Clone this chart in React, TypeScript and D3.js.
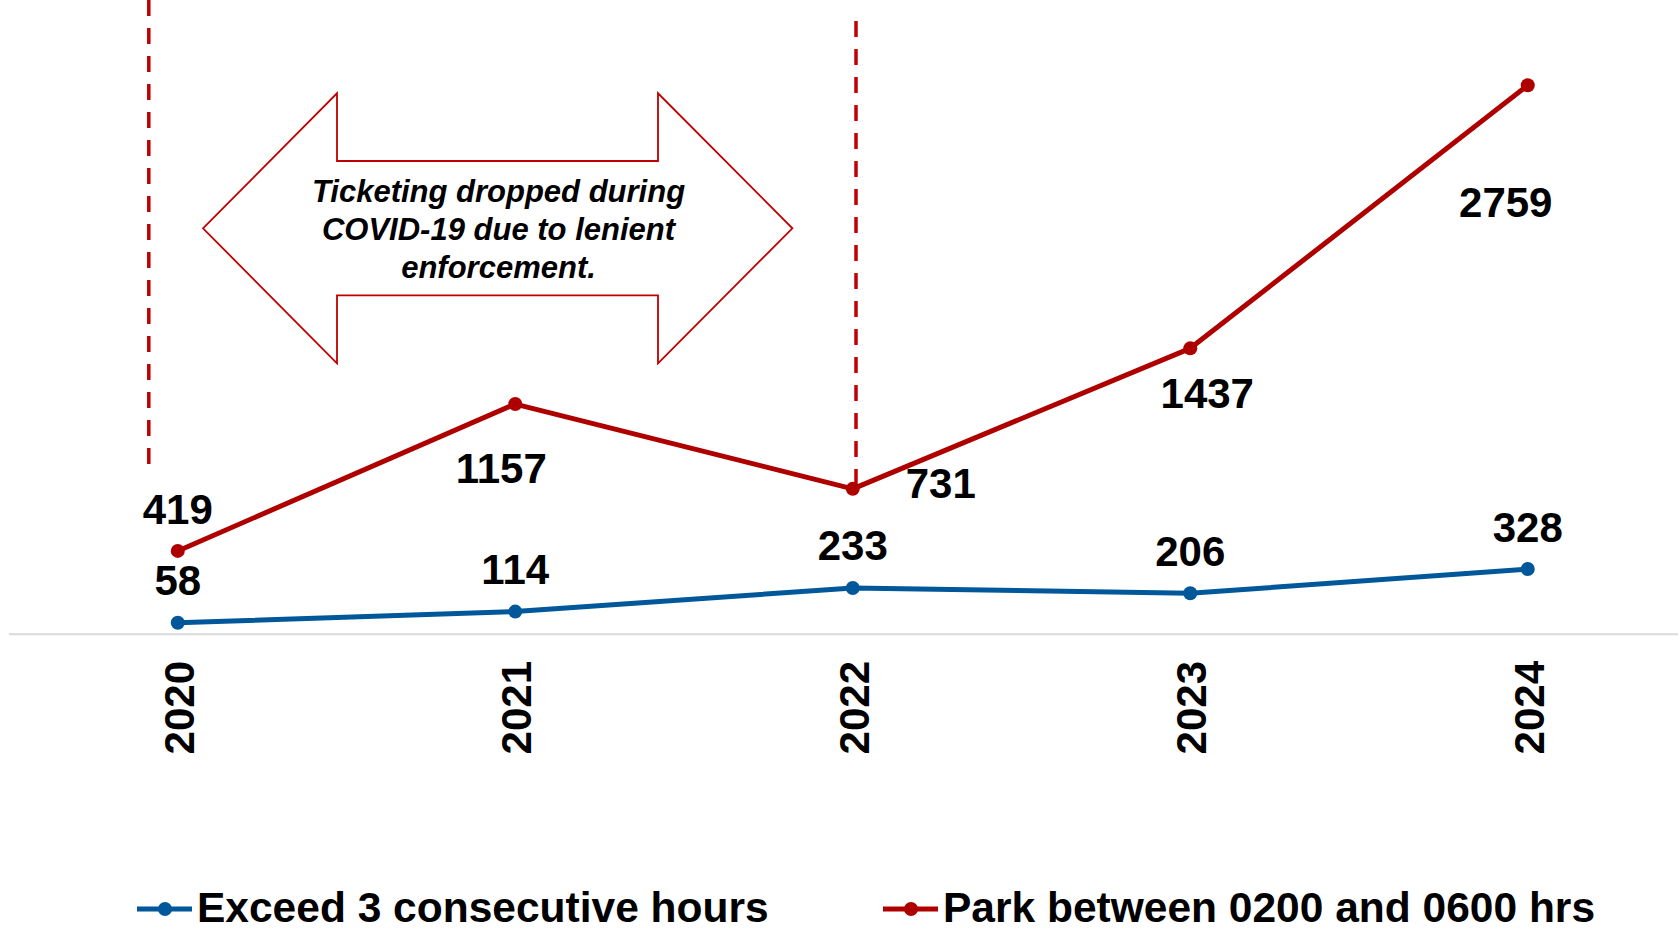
import React, { useEffect, useRef } from 'react';
import * as d3 from 'd3';

// chart data
const years = ['2020', '2021', '2022', '2023', '2024'];
const exceedHours = [58, 114, 233, 206, 328];
const parkOvernight = [419, 1157, 731, 1437, 2759];
const seriesNames = ['Exceed 3 consecutive hours', 'Park between 0200 and 0600 hrs'];
const noteLines = ['Ticketing dropped during', 'COVID-19 due to lenient', 'enforcement.'];

// where each red label sits relative to its point (dx, baseline dy)
const redLabelOffsets = [
  [0, -27],
  [-14, 79],
  [88, 9],
  [17, 60],
  [-22, 132],
];

const BLUE = '#00579A';
const RED = '#AF0000';
const NOTE_RED = '#BE0000';
const FONT = '"Liberation Sans", Arial, sans-serif';

const App = () => {
  const svgRef = useRef<SVGSVGElement>(null);

  useEffect(() => {
    const svg = d3.select(svgRef.current);
    svg.selectAll('*').remove();

    const width = 1678;
    const height = 930;
    svg.attr('width', width).attr('height', height);

    // scales
    const x = d3.scaleBand().domain(years).range([9, 1696.5]);
    const cx = (d: string) => (x(d) as number) + x.bandwidth() / 2;
    const y = d3.scaleLinear().domain([0, 3000]).range([634.3, 37.3]);

    // covid period markers
    svg.append('line')
      .attr('x1', 148.8).attr('x2', 148.8)
      .attr('y1', 0).attr('y2', 470)
      .attr('stroke', NOTE_RED)
      .attr('stroke-width', 3.5)
      .attr('stroke-dasharray', '16,12');

    svg.append('line')
      .attr('x1', 856).attr('x2', 856)
      .attr('y1', 21).attr('y2', y(parkOvernight[2]))
      .attr('stroke', NOTE_RED)
      .attr('stroke-width', 3.5)
      .attr('stroke-dasharray', '16,12');

    // double arrow note
    const arrowPts: [number, number][] = [
      [203, 228.3], [337, 93.3], [337, 161], [658, 161], [658, 93.3], [792.4, 228.3],
      [658, 363.3], [658, 295.3], [337, 295.3], [337, 363.3],
    ];
    svg.append('polygon')
      .attr('points', arrowPts.map((p) => p.join(',')).join(' '))
      .attr('fill', '#fff')
      .attr('stroke', NOTE_RED)
      .attr('stroke-width', 1.8);

    svg.append('g')
      .selectAll('text')
      .data(noteLines)
      .enter()
      .append('text')
      .attr('x', 498.5)
      .attr('y', (d, i) => 201.5 + i * 38)
      .attr('text-anchor', 'middle')
      .attr('font-family', FONT)
      .attr('font-size', 31)
      .attr('font-weight', 'bold')
      .attr('font-style', 'italic')
      .attr('fill', '#000')
      .text((d) => d);

    // x axis line
    svg.append('line')
      .attr('x1', 9).attr('x2', width)
      .attr('y1', y(0)).attr('y2', y(0))
      .attr('stroke', '#D9D9D9')
      .attr('stroke-width', 2);

    // year labels (rotated)
    svg.append('g')
      .selectAll('text')
      .data(years)
      .enter()
      .append('text')
      .attr('transform', (d) => `translate(${cx(d) + 16},661) rotate(-90)`)
      .attr('text-anchor', 'end')
      .attr('font-family', FONT)
      .attr('font-size', 42)
      .attr('font-weight', 'bold')
      .attr('fill', '#000')
      .text((d) => d);

    const line = d3.line<number>()
      .x((d, i) => cx(years[i]))
      .y((d) => y(d));

    const drawSeries = (values: number[], color: string) => {
      svg.append('path')
        .datum(values)
        .attr('d', line)
        .attr('fill', 'none')
        .attr('stroke', color)
        .attr('stroke-width', 5)
        .attr('stroke-linejoin', 'round');

      svg.append('g')
        .selectAll('circle')
        .data(values)
        .enter()
        .append('circle')
        .attr('cx', (d, i) => cx(years[i]))
        .attr('cy', (d) => y(d))
        .attr('r', 7)
        .attr('fill', color);
    };

    drawSeries(parkOvernight, RED);
    drawSeries(exceedHours, BLUE);

    // data labels
    svg.append('g')
      .selectAll('text')
      .data(exceedHours)
      .enter()
      .append('text')
      .attr('x', (d, i) => cx(years[i]))
      .attr('y', (d) => y(d) - 27.5)
      .attr('text-anchor', 'middle')
      .attr('font-family', FONT)
      .attr('font-size', 42)
      .attr('font-weight', 'bold')
      .attr('fill', '#000')
      .text((d) => d);

    svg.append('g')
      .selectAll('text')
      .data(parkOvernight)
      .enter()
      .append('text')
      .attr('x', (d, i) => cx(years[i]) + redLabelOffsets[i][0])
      .attr('y', (d, i) => y(d) + redLabelOffsets[i][1])
      .attr('text-anchor', 'middle')
      .attr('font-family', FONT)
      .attr('font-size', 42)
      .attr('font-weight', 'bold')
      .attr('fill', '#000')
      .text((d) => d);

    // legend
    const legendItems = [
      { name: seriesNames[0], color: BLUE, x: 137 },
      { name: seriesNames[1], color: RED, x: 883 },
    ];
    const legend = svg.append('g');
    legendItems.forEach((item) => {
      legend.append('line')
        .attr('x1', item.x).attr('x2', item.x + 55)
        .attr('y1', 909).attr('y2', 909)
        .attr('stroke', item.color)
        .attr('stroke-width', 5);
      legend.append('circle')
        .attr('cx', item.x + 28).attr('cy', 909)
        .attr('r', 7)
        .attr('fill', item.color);
      legend.append('text')
        .attr('x', item.x + 60)
        .attr('y', 922)
        .attr('font-family', FONT)
        .attr('font-size', 42.5)
        .attr('font-weight', 'bold')
        .attr('fill', '#000')
        .text(item.name);
    });
  }, []);

  return (
    <svg
      ref={svgRef}
      style={{ position: 'absolute', left: 0, top: 0, background: '#fff' }}
    ></svg>
  );
};

export default App;
